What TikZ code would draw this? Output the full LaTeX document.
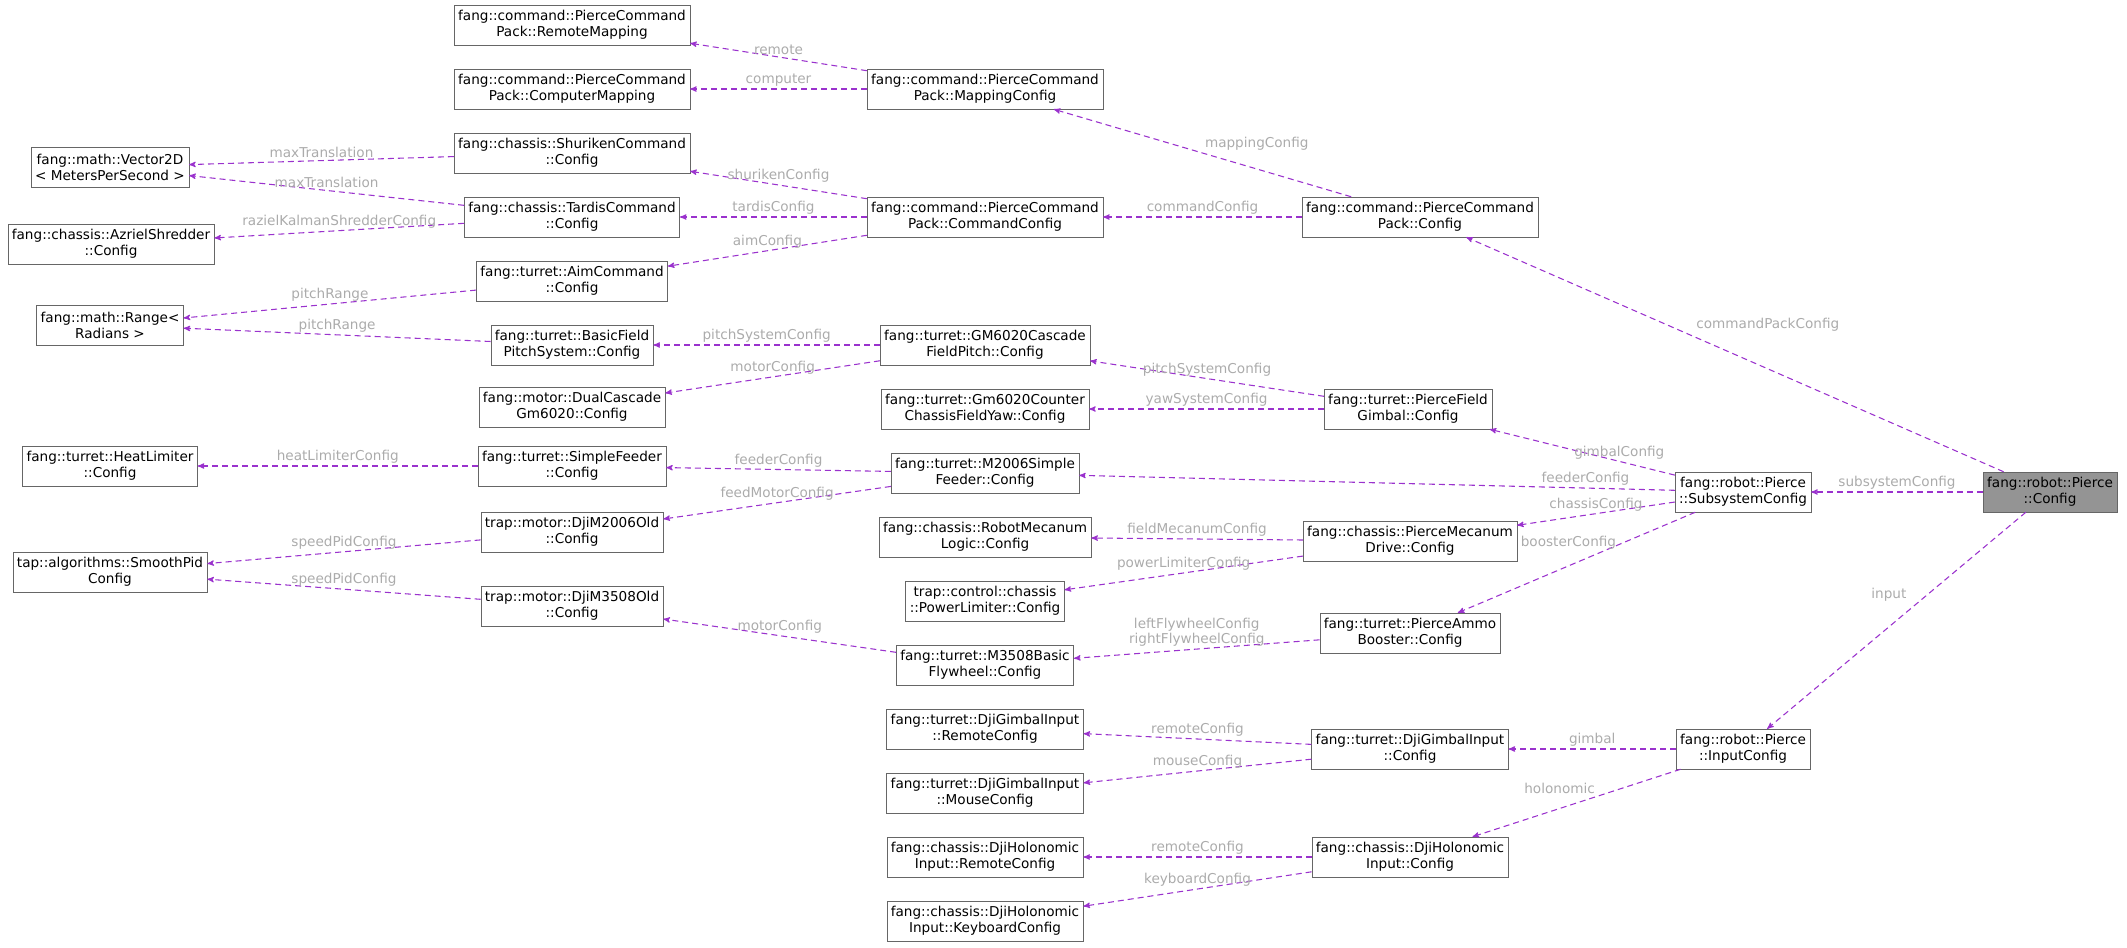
\documentclass[tikz,border=0pt]{standalone}
\usepackage{fontspec}
\setmainfont{DejaVu Sans}
\usetikzlibrary{arrows,positioning}
\definecolor{edgecol}{HTML}{9A32CD}
\definecolor{lblcol}{HTML}{ABABAB}
\definecolor{boxcol}{HTML}{666666}
\begin{document}
\begin{tikzpicture}
[x=0.75pt,y=-0.75pt,>=stealth',font=\fontsize{10.2}{12}\selectfont]
\tikzstyle{cls}=[draw=boxcol,fill=white,align=center,inner sep=3pt,minimum height=30pt]
\tikzstyle{hl}=[cls,fill=black!42]
\tikzstyle{dep}=[->,edgecol,line width=0.8pt,dash pattern=on 4.5pt off 3pt]
\tikzstyle{lbl}=[text=lblcol,font=\fontsize{10.2}{11.5}\selectfont,align=center,inner sep=1.5pt]
\useasboundingbox (0,0) rectangle (2127,947);

% column 1
\node[cls] (vec2d) at (110,167) {fang::math::Vector2D\\< MetersPerSecond >};
\node[cls] (azriel) at (111,244) {fang::chassis::AzrielShredder\\::Config};
\node[cls] (range) at (110,325) {fang::math::Range<\\Radians >};
\node[cls] (heat) at (110,466) {fang::turret::HeatLimiter\\::Config};
\node[cls] (pid) at (110,572) {tap::algorithms::SmoothPid\\Config};

% column 2
\node[cls] (remmap) at (572,25) {fang::command::PierceCommand\\Pack::RemoteMapping};
\node[cls] (compmap) at (572,89) {fang::command::PierceCommand\\Pack::ComputerMapping};
\node[cls] (shuriken) at (572,153) {fang::chassis::ShurikenCommand\\::Config};
\node[cls] (tardis) at (572,217) {fang::chassis::TardisCommand\\::Config};
\node[cls] (aim) at (572,281) {fang::turret::AimCommand\\::Config};
\node[cls] (basicpitch) at (572,345) {fang::turret::BasicField\\PitchSystem::Config};
\node[cls] (dualcasc) at (572,407) {fang::motor::DualCascade\\Gm6020::Config};
\node[cls] (simplefeed) at (572,466) {fang::turret::SimpleFeeder\\::Config};
\node[cls] (m2006old) at (572,532) {trap::motor::DjiM2006Old\\::Config};
\node[cls] (m3508old) at (572,606) {trap::motor::DjiM3508Old\\::Config};

% column 3
\node[cls] (mapcfg) at (985,89) {fang::command::PierceCommand\\Pack::MappingConfig};
\node[cls] (cmdcfg) at (985,217) {fang::command::PierceCommand\\Pack::CommandConfig};
\node[cls] (casc) at (985,345) {fang::turret::GM6020Cascade\\FieldPitch::Config};
\node[cls] (counter) at (985,409) {fang::turret::Gm6020Counter\\ChassisFieldYaw::Config};
\node[cls] (m2006feed) at (985,473) {fang::turret::M2006Simple\\Feeder::Config};
\node[cls] (mecanum) at (985,537) {fang::chassis::RobotMecanum\\Logic::Config};
\node[cls] (powlim) at (985,601) {trap::control::chassis\\::PowerLimiter::Config};
\node[cls] (flywheel) at (985,665) {fang::turret::M3508Basic\\Flywheel::Config};
\node[cls] (gimremote) at (985,729) {fang::turret::DjiGimbalInput\\::RemoteConfig};
\node[cls] (gimmouse) at (985,793) {fang::turret::DjiGimbalInput\\::MouseConfig};
\node[cls] (holremote) at (985,857) {fang::chassis::DjiHolonomic\\Input::RemoteConfig};
\node[cls] (holkey) at (985,921) {fang::chassis::DjiHolonomic\\Input::KeyboardConfig};

% column 4
\node[cls] (cmdpack) at (1420,217) {fang::command::PierceCommand\\Pack::Config};
\node[cls] (gimbal) at (1408,409) {fang::turret::PierceField\\Gimbal::Config};
\node[cls] (drive) at (1410,541) {fang::chassis::PierceMecanum\\Drive::Config};
\node[cls] (booster) at (1410,633) {fang::turret::PierceAmmo\\Booster::Config};
\node[cls] (giminput) at (1410,749) {fang::turret::DjiGimbalInput\\::Config};
\node[cls] (holinput) at (1410,857) {fang::chassis::DjiHolonomic\\Input::Config};

% column 5, 6
\node[cls] (subsys) at (1743,492) {fang::robot::Pierce\\::SubsystemConfig};
\node[cls] (inputcfg) at (1743,749) {fang::robot::Pierce\\::InputConfig};
\node[hl] (pierce) at (2050,492) {fang::robot::Pierce\\::Config};

\path[dep]
	(pierce) edge node [lbl, pos=0.58, above right=2pt] {commandPackConfig} (cmdpack)
	(pierce) edge node [lbl, midway, above] {subsystemConfig} (subsys)
	(pierce) edge node [lbl, pos=0.38, left=14pt] {input} (inputcfg)
	(cmdpack) edge node [lbl, midway, above right] {mappingConfig} (mapcfg)
	(cmdpack) edge node [lbl, midway, above] {commandConfig} (cmdcfg)
	(mapcfg) edge node [lbl, midway, above] {remote} (remmap)
	(mapcfg) edge node [lbl, midway, above] {computer} (compmap)
	(cmdcfg) edge node [lbl, midway, above] {shurikenConfig} (shuriken)
	(cmdcfg) edge node [lbl, midway, above] {tardisConfig} (tardis)
	(cmdcfg) edge node [lbl, midway, above] {aimConfig} (aim)
	(shuriken) edge node [lbl, midway, above] {maxTranslation} (vec2d)
	(tardis) edge node [lbl, midway, above] {maxTranslation} (vec2d)
	(tardis) edge node [lbl, midway, above] {razielKalmanShredderConfig} (azriel)
	(aim) edge node [lbl, midway, above] {pitchRange} (range)
	(basicpitch) edge node [lbl, midway, above] {pitchRange} (range)
	(casc) edge node [lbl, midway, above] {pitchSystemConfig} (basicpitch)
	(casc) edge node [lbl, midway, above] {motorConfig} (dualcasc)
	(gimbal) edge node [lbl, midway, above] {pitchSystemConfig} (casc)
	(gimbal) edge node [lbl, midway, above] {yawSystemConfig} (counter)
	(subsys) edge node [lbl, pos=0.3, above] {gimbalConfig} (gimbal)
	(subsys) edge node [lbl, pos=0.15, above] {feederConfig} (m2006feed)
	(subsys) edge node [lbl, midway, above] {chassisConfig} (drive)
	(subsys) edge node [lbl, pos=0.3, left=4pt] {boosterConfig} (booster)
	(m2006feed) edge node [lbl, midway, above] {feederConfig} (simplefeed)
	(m2006feed) edge node [lbl, midway, above] {feedMotorConfig} (m2006old)
	(simplefeed) edge node [lbl, midway, above] {heatLimiterConfig} (heat)
	(m2006old) edge node [lbl, midway, above] {speedPidConfig} (pid)
	(m3508old) edge node [lbl, midway, above] {speedPidConfig} (pid)
	(drive) edge node [lbl, midway, above] {fieldMecanumConfig} (mecanum)
	(drive) edge node [lbl, midway, above] {powerLimiterConfig} (powlim)
	(booster) edge node [lbl, midway, above] {leftFlywheelConfig\\rightFlywheelConfig} (flywheel)
	(flywheel) edge node [lbl, midway, above] {motorConfig} (m3508old)
	(inputcfg) edge node [lbl, midway, above] {gimbal} (giminput)
	(inputcfg) edge node [lbl, pos=0.4, above left] {holonomic} (holinput)
	(giminput) edge node [lbl, midway, above] {remoteConfig} (gimremote)
	(giminput) edge node [lbl, midway, above] {mouseConfig} (gimmouse)
	(holinput) edge node [lbl, midway, above] {remoteConfig} (holremote)
	(holinput) edge node [lbl, midway, above] {keyboardConfig} (holkey)
	;
\end{tikzpicture}
\end{document}
